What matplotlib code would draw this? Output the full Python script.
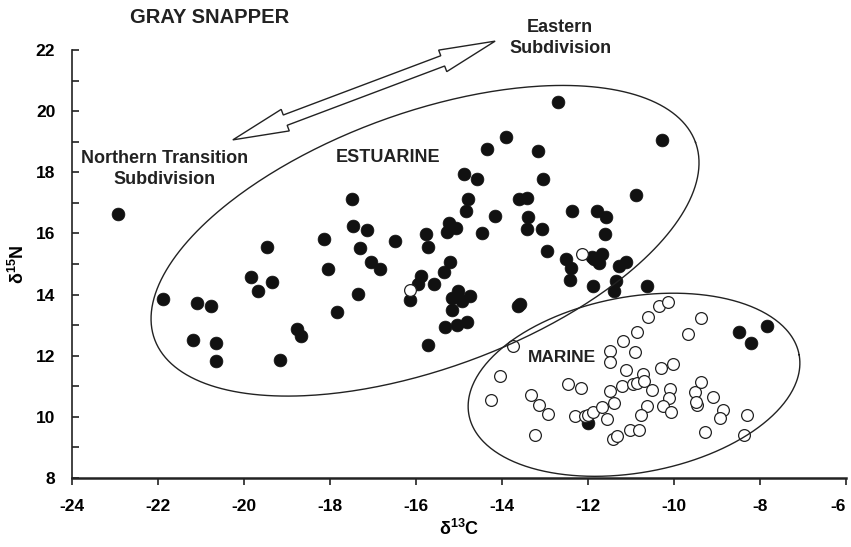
import numpy as np
import matplotlib
matplotlib.use('Agg')
import matplotlib.pyplot as plt
from matplotlib import font_manager
from matplotlib.patches import Polygon
from matplotlib.transforms import IdentityTransform, ScaledTranslation

# ============ 数据 ============
# 河口 (实心点)
est_x = [-22.93, -21.88, -21.10, -20.77, -21.18, -20.64, -20.65, -19.84, -19.67, -19.47,
         -19.35, -18.77, -18.68, -19.16, -17.50, -17.46, -18.14, -18.05, -17.84, -17.36,
         -17.30, -17.13, -17.05, -16.84, -16.49, -15.77, -15.73, -15.23, -15.29, -15.07,
         -14.47, -15.21, -15.36, -15.89, -15.95, -16.14, -15.58, -15.02, -15.17, -14.94,
         -14.74, -15.17, -15.33, -15.05, -14.82, -15.73, -13.62, -13.58, -12.70, -13.91,
         -14.34, -13.16, -13.04, -14.88, -14.59, -14.80, -14.84, -14.16, -13.60, -13.43,
         -13.39, -13.42, -13.06, -12.37, -11.80, -11.58, -11.60, -12.96, -12.51, -12.40,
         -12.42, -11.90, -11.68, -11.74, -11.85, -11.88, -11.29, -11.12, -11.35, -11.40,
         -10.28, -10.89, -10.63, -8.48, -7.83, -8.22, -11.99]
est_y = [16.64, 13.86, 13.71, 13.63, 12.51, 12.40, 11.83, 14.56, 14.11, 15.56,
         14.40, 12.87, 12.65, 11.87, 17.12, 16.25, 15.82, 14.85, 13.43, 14.03,
         15.51, 16.10, 15.08, 14.84, 15.76, 15.99, 15.56, 16.34, 16.06, 16.17,
         16.03, 15.08, 14.74, 14.62, 14.34, 13.83, 14.35, 14.13, 13.89, 13.78,
         13.94, 13.50, 12.94, 12.99, 13.09, 12.34, 13.61, 13.70, 20.29, 19.15,
         18.76, 18.68, 17.77, 17.96, 17.77, 17.13, 16.74, 16.58, 17.14, 17.17,
         16.55, 16.15, 16.15, 16.74, 16.74, 16.55, 15.99, 15.44, 15.17, 14.87,
         14.48, 15.22, 15.33, 15.03, 15.15, 14.29, 14.92, 15.08, 14.43, 14.13,
         19.05, 17.26, 14.27, 12.79, 12.96, 12.41, 9.80]

# 海洋 (空心点)
mar_x = [-16.14, -12.15,
         -13.74, -14.05, -14.26, -13.33, -13.13, -12.92, -13.23, -12.46, -12.16, -12.30,
         -12.06, -12.01, -11.89, -11.67, -11.55, -11.39, -11.49, -11.20, -10.95, -10.85,
         -10.71, -10.70, -11.12, -11.49, -11.50, -11.18, -10.91, -10.85, -10.61, -10.35,
         -10.13, -9.67, -9.37, -10.30, -10.02, -10.52, -10.09, -10.11, -10.63, -10.77,
         -10.25, -10.08, -11.02, -10.81, -11.43, -11.33, -9.51, -9.37, -9.47, -9.49,
         -9.09, -8.85, -8.93, -9.27, -8.30, -8.37]
mar_y = [14.16, 15.33,
         12.33, 11.35, 10.56, 10.73, 10.40, 10.10, 9.42, 11.08, 10.94, 10.02,
         10.02, 10.07, 10.15, 10.31, 9.93, 10.44, 10.86, 11.02, 11.09, 11.11,
         11.41, 11.16, 11.52, 12.17, 11.81, 12.47, 12.11, 12.79, 13.28, 13.61,
         13.75, 12.70, 13.23, 11.60, 11.73, 10.87, 10.92, 10.62, 10.37, 10.07,
         10.37, 10.15, 9.56, 9.58, 9.28, 9.36, 10.80, 11.13, 10.40, 10.50,
         10.65, 10.21, 9.96, 9.49, 10.07, 9.42]

x_ticks = [-24, -22, -20, -18, -16, -14, -12, -10, -8, -6]
y_ticks = [8, 10, 12, 14, 16, 18, 20, 22]

# 椭圆 (中心, 两个共轭半轴)
EST_ELL = ((-15.79, 15.76), (6.29, 3.22), (-1.018, 3.93))
MAR_ELL = ((-10.93, 11.05), (3.84, 0.98), (-0.366, 2.83))

# ============ 字体 ============
installed = {f.name for f in font_manager.fontManager.ttflist}
narrow = 'Liberation Sans Narrow' if 'Liberation Sans Narrow' in installed else 'Liberation Sans'
plt.rcParams['font.family'] = ['Liberation Sans', 'DejaVu Sans']
plt.rcParams['mathtext.fontset'] = 'custom'
plt.rcParams['mathtext.rm'] = 'Liberation Sans'
plt.rcParams['mathtext.bf'] = 'Liberation Sans:bold'


def draw_ellipse(ax, ell):
    (cx, cy), (ux, uy), (vx, vy) = ell
    t = np.linspace(0, 2 * np.pi, 400)
    ax.plot(cx + ux * np.cos(t) + vx * np.sin(t),
            cy + uy * np.cos(t) + vy * np.sin(t),
            color='#222222', linewidth=1.0, zorder=5, clip_on=False)


def draw_double_arrow(ax, p0, p1, head_len=56, head_w=11.5, shaft_w=5.5):
    """空心双箭头 (像素单位)"""
    a = ax.transData.transform(p0)
    b = ax.transData.transform(p1)
    d = (b - a) / np.linalg.norm(b - a)
    n = np.array([-d[1], d[0]])
    pts = [a,
           a + d * head_len + n * head_w,
           a + d * head_len + n * shaft_w,
           b - d * head_len + n * shaft_w,
           b - d * head_len + n * head_w,
           b,
           b - d * head_len - n * head_w,
           b - d * head_len - n * shaft_w,
           a + d * head_len - n * shaft_w,
           a + d * head_len - n * head_w]
    poly = Polygon(pts, closed=True, facecolor='white', edgecolor='#222222',
                   linewidth=1.0, transform=IdentityTransform(), zorder=6, clip_on=False)
    ax.add_artist(poly)


fig = plt.figure(figsize=(8.51, 5.47), dpi=100)
ax = fig.add_axes([72 / 851, 1 - 478 / 547, (846 - 72) / 851, (478 - 50) / 547])

ax.scatter(est_x, est_y, s=85, c='#111111', edgecolors='#111111', linewidths=0.5, zorder=3, clip_on=False)
ax.scatter(mar_x, mar_y, s=72, c='white', edgecolors='#222222', linewidths=0.9, zorder=4, clip_on=False)

draw_ellipse(ax, EST_ELL)
draw_ellipse(ax, MAR_ELL)

ax.set_xlim(-24, -6)
ax.set_ylim(8, 22)
ax.set_xticks(x_ticks)
ax.set_yticks(y_ticks)
ax.set_yticks(np.arange(9, 22, 2), minor=True)
ax.set_xticklabels([str(v) for v in x_ticks], fontfamily=narrow, fontweight='bold', fontsize=12.5)
ax.set_yticklabels([str(v) for v in y_ticks], fontfamily=narrow, fontweight='bold', fontsize=12.5)
ax.tick_params(axis='x', direction='out', length=5, width=1.2, pad=10, color='#222222')
ax.tick_params(axis='y', which='both', direction='in', length=5, width=1.2, pad=12, color='#222222')

# 最右侧刻度标签稍微左移, 避免被裁掉
last = ax.get_xticklabels()[-1]
last.set_transform(last.get_transform() + ScaledTranslation(-6 / 72, 0, fig.dpi_scale_trans))

for s in ['top', 'right']:
    ax.spines[s].set_visible(False)
ax.spines['left'].set_linewidth(1.2)
ax.spines['bottom'].set_linewidth(1.8)
ax.spines['left'].set_color('#222222')
ax.spines['bottom'].set_color('#222222')

ax.set_xlabel(r'δ$^{\mathbf{13}}$C', fontfamily=narrow, fontweight='bold', fontsize=13, labelpad=4)
ax.set_ylabel(r'δ$^{\mathbf{15}}$N', fontfamily=narrow, fontweight='bold', fontsize=13, labelpad=6)

txt = dict(fontweight='bold', ha='center', va='center', color='#222222', clip_on=False)
ax.text(-20.79, 23.05, 'GRAY SNAPPER', fontsize=14.5, **txt)
ax.text(-12.65, 22.39, 'Eastern\nSubdivision', fontsize=13, linespacing=1.3, **txt)
ax.text(-21.84, 18.11, 'Northern Transition\nSubdivision', fontsize=13, linespacing=1.3, **txt)
ax.text(-16.65, 18.50, 'ESTUARINE', fontsize=13, **txt)
ax.text(-12.60, 11.93, 'MARINE', fontsize=12.5, **txt)

draw_double_arrow(ax, (-20.26, 19.06), (-14.16, 22.29))

plt.savefig('out.png', dpi=100, facecolor='white')
plt.close()
